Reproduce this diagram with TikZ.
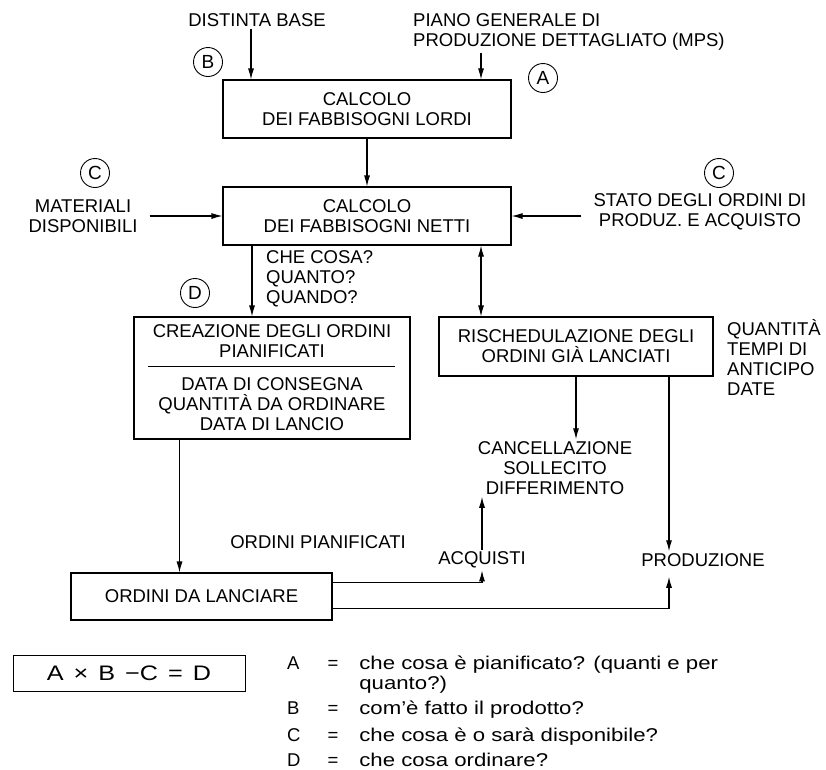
\documentclass[tikz,border=0pt]{standalone}
\usepackage{fontspec}
\setmainfont{Liberation Sans}
\newfontfamily\legfont[FakeStretch=1.2]{Liberation Sans}
\usetikzlibrary{arrows.meta,positioning,calc}
\newcommand\figfont{\fontsize{18.5}{20}\selectfont}
\tikzset{
    block/.style={
        rectangle,
        draw,
        line width=1.1pt,
        align=center,
        inner sep=2pt
    },
    note/.style={
        align=center,
        inner sep=2pt
    },
    tag/.style={
        circle,
        draw,
        line width=0.9pt,
        minimum size=29pt,
        inner sep=0pt,
        font=\fontsize{19}{19}\selectfont
    },
    arrow/.style={-{Latex[length=11pt,width=6pt]},line width=1.1pt},
    twoway/.style={{Latex[length=11pt,width=6pt]}-{Latex[length=11pt,width=6pt]},line width=1.1pt}
}

\begin{document}
\begin{tikzpicture}[x=1pt,y=-1pt,font=\figfont]
    \useasboundingbox (0,0) rectangle (826,769);

    % inputs
    \node[note] (distinta) at (257,20) {DISTINTA BASE};
    \node[note, align=left, anchor=west] (piano) at (411,32)
        {PIANO GENERALE DI\\PRODUZIONE DETTAGLIATO (MPS)};
    \node[tag] (circB) at (208,62) {B};
    \node[tag] (circA) at (543,78) {A};

    \node[block, minimum width=288pt, minimum height=58pt] (lordi) at (367,109)
        {CALCOLO\\DEI FABBISOGNI LORDI};
    \node[block, minimum width=288pt, minimum height=58pt] (netti) at (367,216)
        {CALCOLO\\DEI FABBISOGNI NETTI};

    \node[tag] (circC1) at (95,173) {C};
    \node[note] (materiali) at (83,216) {MATERIALI\\DISPONIBILI};
    \node[tag] (circC2) at (719,173) {C};
    \node[note] (stato) at (700,212) {STATO DEGLI ORDINI DI\\PRODUZ. E ACQUISTO};

    \node[note, align=left, anchor=west] (checosa) at (264,279)
        {CHE COSA?\\QUANTO?\\QUANDO?};
    \node[tag] (circD) at (195,293) {D};

    \node[block, minimum width=276pt, minimum height=122pt] (creaz) at (272,378)
        {CREAZIONE DEGLI ORDINI\\PIANIFICATI\\[13pt]DATA DI CONSEGNA\\QUANTITÀ DA ORDINARE\\DATA DI LANCIO};
    \draw[line width=1.1pt] ($(creaz.north west)+(15,50)$) -- ($(creaz.north east)+(-16,50)$);

    \node[block, minimum width=274pt, minimum height=59pt] (resched) at (576,346.5)
        {RISCHEDULAZIONE DEGLI\\ORDINI GIÀ LANCIATI};
    \node[note, align=left, anchor=west] (quantita) at (725,357.5)
        {QUANTITÀ\\TEMPI DI\\ANTICIPO\\DATE};

    \node[note] (cancel) at (555,468) {CANCELLAZIONE\\SOLLECITO\\DIFFERIMENTO};
    \node[note] (ordpian) at (318,542) {ORDINI PIANIFICATI};
    \node[note] (acquisti) at (482,560) {ACQUISTI};
    \node[note] (produz) at (703,560) {PRODUZIONE};

    \node[block, minimum width=261pt, minimum height=47pt] (ordlanc) at (201.5,596.5)
        {ORDINI DA LANCIARE};

    % legend
    \node[block, line width=0.9pt, minimum width=232pt, minimum height=36pt,
          font=\fontsize{21}{21}\legfont] (formula) at (129,673)
        {A\hspace{10pt}×\hspace{10pt}B\hspace{10pt}−C\hspace{10pt}=\hspace{10pt}D};
    \node[anchor=north west, inner sep=0pt] (legend) at (287,655) {%
        \begin{tabular}{@{}l@{\hspace{27pt}}l@{\hspace{21pt}}l@{}}
        A & = & \legfont che cosa è pianificato? (quanti e per\\
          &   & \legfont quanto?)\\[5pt]
        B & = & \legfont com’è fatto il prodotto?\\[7pt]
        C & = & \legfont che cosa è o sarà disponibile?\\[5pt]
        D & = & \legfont che cosa ordinare?
        \end{tabular}};

    % connectors
    \draw[arrow] ([xshift=-6pt]distinta.south) -- ([xshift=-6pt]distinta.south |- lordi.north);
    \draw[arrow] ([xshift=70pt]piano.south west) -- ([xshift=70pt]piano.south west |- lordi.north);
    \draw[arrow] (lordi) -- (netti);
    \draw[arrow, shorten <=10pt] (materiali) -- (netti);
    \draw[arrow] ([xshift=-10pt]stato.west |- netti) -- (netti);
    \draw[arrow] ([xshift=-20pt]creaz.north |- netti.south) -- ([xshift=-20pt]creaz.north);
    \draw[twoway] ([xshift=-95pt]resched.north |- netti.south) -- ([xshift=-95pt]resched.north);
    \draw[arrow] (resched.south) -- (resched.south |- cancel.north);
    \draw[arrow] ([xshift=93pt]resched.south) -- ([xshift=93pt]resched.south |- produz.north);
    \draw[arrow] (acquisti.north) -- (acquisti.north |- cancel.south);
    \draw[arrow] ([xshift=-22pt]ordlanc.north |- creaz.south) -- ([xshift=-22pt]ordlanc.north);
    \draw[arrow] ([yshift=14pt]ordlanc.east) -| (acquisti.south);
    \draw[arrow] ([yshift=-12pt]ordlanc.east) -| ([xshift=-34pt,yshift=-8pt]produz.south);
\end{tikzpicture}
\end{document}
